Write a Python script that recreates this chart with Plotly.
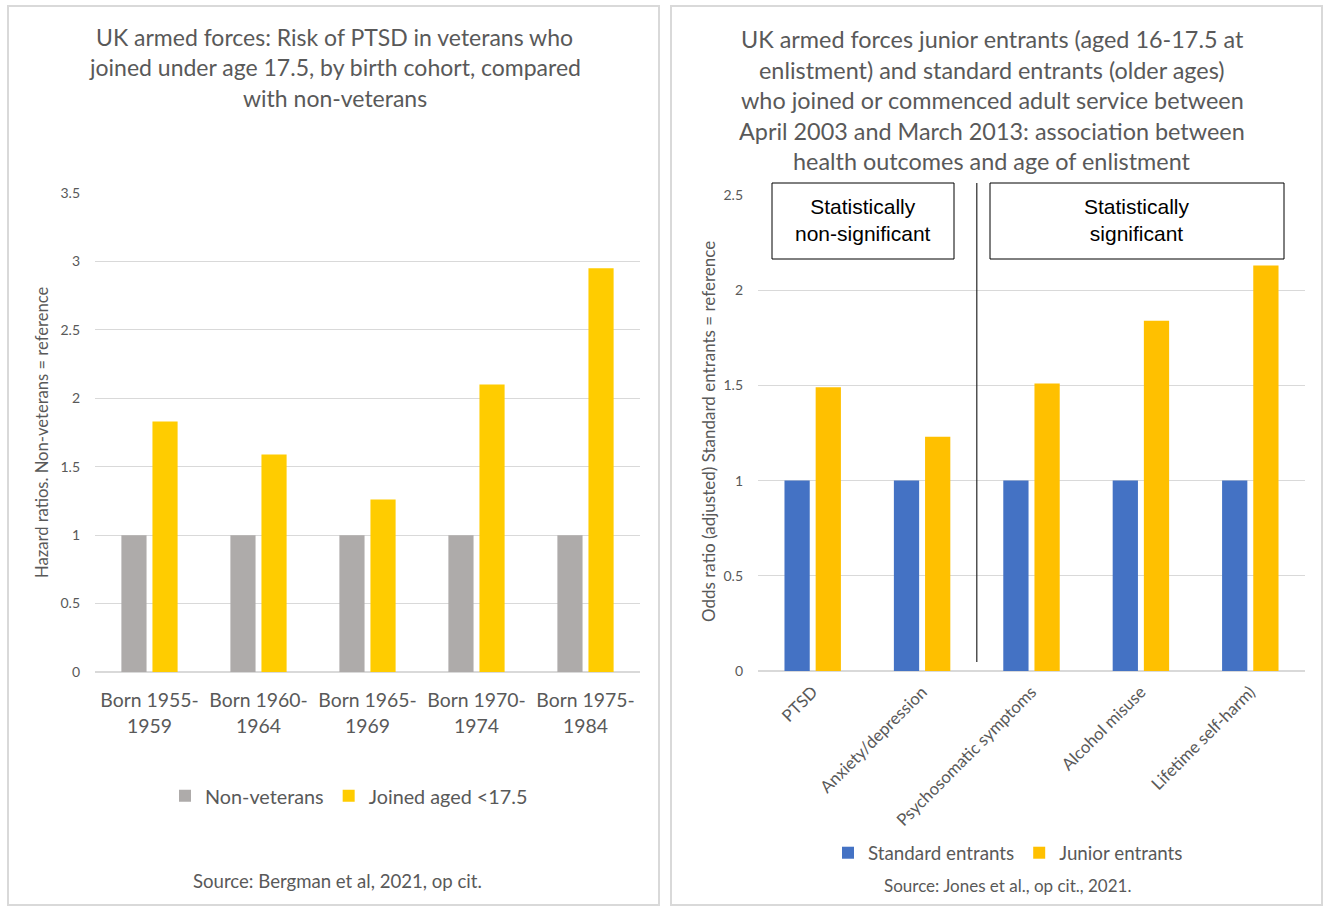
import plotly.graph_objects as go

W, H = 1324, 907

# ---- data: left chart ----
cohorts = ["Born 1955-<br>1959", "Born 1960-<br>1964", "Born 1965-<br>1969",
           "Born 1970-<br>1974", "Born 1975-<br>1984"]
non_veterans = [1, 1, 1, 1, 1]
joined_under_17_5 = [1.83, 1.59, 1.26, 2.10, 2.95]
left_yticks = [0, 0.5, 1, 1.5, 2, 2.5, 3, 3.5]

# ---- data: right chart ----
outcomes = ["PTSD", "Anxiety/depression", "Psychosomatic symptoms",
            "Alcohol misuse", "Lifetime self-harm)"]
standard_entrants = [1, 1, 1, 1, 1]
junior_entrants = [1.49, 1.23, 1.51, 1.84, 2.13]
right_yticks = [0, 0.5, 1, 1.5, 2, 2.5]

left_title = ["UK armed forces: Risk of PTSD in veterans who",
              "joined under age 17.5, by birth cohort, compared",
              "with non-veterans"]
right_title = ["UK armed forces junior entrants (aged 16-17.5 at",
               "enlistment) and standard entrants (older ages)",
               "who joined or commenced adult service between",
               "April 2003 and March 2013: association between",
               "health outcomes and age of enlistment"]

FONT = "Lato"
GREY_TXT = "#595959"
GRID = "#D9D9D9"


def px(x):
    return x / W


def py(y):
    return 1 - y / H


fig = go.Figure()

fig.add_trace(go.Bar(x=cohorts, y=non_veterans, name="Non-veterans",
                     marker=dict(color="#AEABAA", line=dict(width=0)),
                     xaxis="x", yaxis="y", legend="legend"))
fig.add_trace(go.Bar(x=cohorts, y=joined_under_17_5, name="Joined aged <17.5",
                     marker=dict(color="#FFCC00", line=dict(width=0)),
                     xaxis="x", yaxis="y", legend="legend"))
fig.add_trace(go.Bar(x=outcomes, y=standard_entrants, name="Standard entrants",
                     marker=dict(color="#4472C4", line=dict(width=0)),
                     xaxis="x2", yaxis="y2", legend="legend2"))
fig.add_trace(go.Bar(x=outcomes, y=junior_entrants, name="Junior entrants",
                     marker=dict(color="#FFC000", line=dict(width=0)),
                     xaxis="x2", yaxis="y2", legend="legend2"))

axis_common_y = dict(showgrid=True, gridcolor=GRID, gridwidth=1,
                     zeroline=True, zerolinecolor=GRID, zerolinewidth=1.5,
                     tickfont=dict(family=FONT, size=14, color=GREY_TXT),
                     ticks="", showline=False, ticklabelstandoff=14,
                     automargin=False)

fig.update_layout(
    width=W, height=H, autosize=False,
    margin=dict(l=0, r=0, t=0, b=0, pad=0, autoexpand=False),
    paper_bgcolor="white", plot_bgcolor="white",
    barmode="group", bargap=0.43, bargroupgap=0.19,
    font=dict(family=FONT, color=GREY_TXT),
    xaxis=dict(domain=[px(95), px(640)], anchor="y", type="category",
               showgrid=False, showline=False, ticks="", automargin=False,
               tickfont=dict(family=FONT, size=19.4, color=GREY_TXT),
               ticklabelstandoff=15),
    yaxis=dict(domain=[py(672), py(193)], anchor="x", range=[0, 3.5],
               tickvals=left_yticks, ticktext=[f"{v:g}" for v in left_yticks],
               **axis_common_y),
    xaxis2=dict(domain=[px(758), px(1305)], anchor="y2", type="category",
                showgrid=False, showline=False, ticks="", tickangle=-45,
                automargin=False,
                tickfont=dict(family=FONT, size=16.8, color=GREY_TXT),
                ticklabelstandoff=7),
    yaxis2=dict(domain=[py(671), py(195)], anchor="x2", range=[0, 2.5],
                tickvals=right_yticks, ticktext=[f"{v:g}" for v in right_yticks],
                **axis_common_y),
    legend=dict(orientation="h", x=px(349), xanchor="center", y=py(796),
                yanchor="middle", font=dict(family=FONT, size=19.8, color=GREY_TXT),
                bgcolor="rgba(0,0,0,0)", itemwidth=30),
    legend2=dict(orientation="h", x=px(1008), xanchor="center", y=py(853),
                 yanchor="middle", font=dict(family=FONT, size=18.8, color=GREY_TXT),
                 bgcolor="rgba(0,0,0,0)", itemwidth=30),
    showlegend=True,
)

shapes = []
# panel borders
shapes.append(dict(type="rect", xref="paper", yref="paper",
                   x0=px(8), x1=px(659), y0=py(905), y1=py(6),
                   line=dict(color=GRID, width=2)))
shapes.append(dict(type="rect", xref="paper", yref="paper",
                   x0=px(671), x1=px(1322), y0=py(905), y1=py(6),
                   line=dict(color=GRID, width=2)))
# significance boxes
shapes.append(dict(type="rect", xref="paper", yref="paper",
                   x0=px(772), x1=px(954), y0=py(259), y1=py(183),
                   line=dict(color="black", width=1), fillcolor="white", layer="above"))
shapes.append(dict(type="rect", xref="paper", yref="paper",
                   x0=px(990), x1=px(1284), y0=py(259), y1=py(183),
                   line=dict(color="black", width=1), fillcolor="white", layer="above"))
# divider line between non-significant and significant outcomes
shapes.append(dict(type="line", xref="x2", yref="paper",
                   x0=1.5, x1=1.5, y0=py(662), y1=py(183),
                   line=dict(color="#262626", width=1.2)))
fig.update_layout(shapes=shapes)

ann = []
for i, line in enumerate(left_title):
    ann.append(dict(text=line, xref="paper", yref="paper",
                    x=px(335), y=py(37 + 30.5 * i),
                    xanchor="center", yanchor="middle", showarrow=False,
                    font=dict(family=FONT, size=23, color=GREY_TXT)))
for i, line in enumerate(right_title):
    ann.append(dict(text=line, xref="paper", yref="paper",
                    x=px(992), y=py(39 + 30.5 * i),
                    xanchor="center", yanchor="middle", showarrow=False,
                    font=dict(family=FONT, size=23.4, color=GREY_TXT)))
ann.append(dict(text="Hazard ratios. Non-veterans = reference",
                xref="paper", yref="paper", x=px(42), y=py(432),
                xanchor="center", yanchor="middle", textangle=-90, showarrow=False,
                font=dict(family=FONT, size=16.6, color=GREY_TXT)))
ann.append(dict(text="Odds ratio (adjusted) Standard entrants = reference",
                xref="paper", yref="paper", x=px(708), y=py(432),
                xanchor="center", yanchor="middle", textangle=-90, showarrow=False,
                font=dict(family=FONT, size=17, color=GREY_TXT)))
ann.append(dict(text="Statistically<br>non-significant",
                xref="paper", yref="paper", x=px(863), y=py(220),
                xanchor="center", yanchor="middle", showarrow=False,
                font=dict(family="Liberation Sans", size=21, color="black")))
ann.append(dict(text="Statistically<br>significant",
                xref="paper", yref="paper", x=px(1137), y=py(220),
                xanchor="center", yanchor="middle", showarrow=False,
                font=dict(family="Liberation Sans", size=21, color="black")))
ann.append(dict(text="Source: Bergman et al, 2021, op cit.",
                xref="paper", yref="paper", x=px(337), y=py(881),
                xanchor="center", yanchor="middle", showarrow=False,
                font=dict(family=FONT, size=18.6, color=GREY_TXT)))
ann.append(dict(text="Source: Jones et al., op cit., 2021.",
                xref="paper", yref="paper", x=px(1007), y=py(885),
                xanchor="center", yanchor="middle", showarrow=False,
                font=dict(family=FONT, size=17, color=GREY_TXT)))
fig.update_layout(annotations=ann)

# pin the graph to the top-left corner of the window (no body margin / scrolling)
pin_js = ("var gd=document.getElementById('{plot_id}');"
          "document.documentElement.style.overflow='hidden';"
          "document.body.style.margin='0';"
          "gd.style.position='fixed';gd.style.left='0px';gd.style.top='0px';")

fig.write_html("out.html", post_script=pin_js,
               config={"displayModeBar": False, "responsive": False})
